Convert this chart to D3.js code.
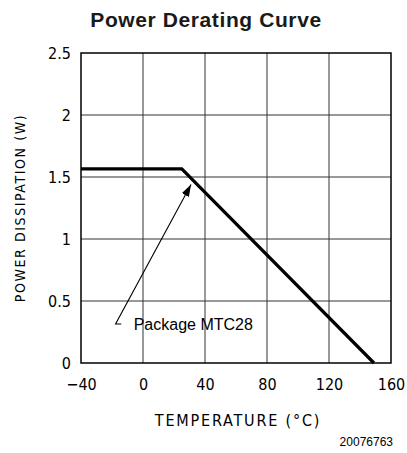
<!DOCTYPE html>
<html>
<head>
<meta charset="utf-8">
<script src="https://cdnjs.cloudflare.com/ajax/libs/d3/7.8.5/d3.min.js"></script>
<style>
  body { margin: 0; background: #fff; }
  .tech { font-family: "DejaVu Sans Condensed", "DejaVu Sans", sans-serif; font-stretch: condensed; }
</style>
</head>
<body>
<div id="chart"></div>
<script>
(function(){
    var width = 407,
        height = 453;

    // data
    var xTicks = [-40, 0, 40, 80, 120, 160];
    var yTicks = [0, 0.5, 1, 1.5, 2, 2.5];
    var curveTemp = [-40, 25, 149];
    var curvePower = [1.565, 1.565, 0];
    // arrow of the "Package MTC28" label: tail end, corner, tip
    var arrowTemp = [-14, -17.7, 31];
    var arrowPower = [0.315, 0.315, 1.44];
    var labelAt = [-6, 0.315];

    var margin = {left: 81, right: 16, top: 53, bottom: 90};

    var svg = d3.select("#chart")
      .append("svg")
      .attr("width", width)
      .attr("height", height);

    var xScale = d3.scaleLinear().domain([-40, 160]).range([margin.left, width - margin.right]);
    var yScale = d3.scaleLinear().domain([0, 2.5]).range([height - margin.bottom, margin.top]);

    svg.append("text")
      .attr("x", 206)
      .attr("y", 27)
      .attr("text-anchor", "middle")
      .style("font-family", "Liberation Sans, Arial, sans-serif")
      .style("font-weight", "bold")
      .style("font-size", "21px")
      .style("letter-spacing", "0.6px")
      .attr("fill", "#1a1a1a")
      .text("Power Derating Curve");

    // grid
    var grid = svg.append("g");
    grid.selectAll(".vx")
      .data(xTicks.slice(1, -1))
      .enter().append("line")
      .attr("x1", function(d){ return xScale(d) })
      .attr("x2", function(d){ return xScale(d) })
      .attr("y1", yScale(0))
      .attr("y2", yScale(2.5))
      .attr("stroke", "#333")
      .attr("stroke-width", 1);
    grid.selectAll(".hy")
      .data(yTicks.slice(1, -1))
      .enter().append("line")
      .attr("y1", function(d){ return yScale(d) })
      .attr("y2", function(d){ return yScale(d) })
      .attr("x1", xScale(-40))
      .attr("x2", xScale(160))
      .attr("stroke", "#333")
      .attr("stroke-width", 1);

    svg.append("rect")
      .attr("x", xScale(-40))
      .attr("y", yScale(2.5))
      .attr("width", xScale(160) - xScale(-40))
      .attr("height", yScale(0) - yScale(2.5))
      .attr("fill", "none")
      .attr("stroke", "#000")
      .attr("stroke-width", 1.5);

    // axes (tick text only)
    var xaxis = d3.axisBottom(xScale).tickValues(xTicks).tickSize(0).tickPadding(0)
      .tickFormat(function(d){ return d < 0 ? "\u2212" + Math.abs(d) : d; });
    var gx = svg.append("g").attr("class", "tech")
      .attr("transform", "translate(0," + yScale(0) + ")")
      .call(xaxis);
    gx.select(".domain").remove();
    gx.selectAll("text")
      .attr("dy", 0)
      .attr("y", 27)
      .style("font-size", "16px")
      .attr("fill", "#000");

    var yaxis = d3.axisLeft(yScale).tickValues(yTicks).tickSize(0).tickPadding(10)
      .tickFormat(d3.format("~g"));
    var gy = svg.append("g").attr("class", "tech")
      .attr("transform", "translate(" + xScale(-40) + ",0)")
      .call(yaxis);
    gy.select(".domain").remove();
    gy.selectAll("text")
      .attr("dy", "0.36em")
      .style("font-size", "16px")
      .attr("fill", "#000");
    svg.selectAll(".tick line").remove();

    svg.append("text").attr("class", "tech")
      .attr("x", (xScale(-40) + xScale(160)) / 2 + 2)
      .attr("y", 426)
      .attr("text-anchor", "middle")
      .style("font-size", "16px")
      .style("letter-spacing", "1.8px")
      .text("TEMPERATURE (\u00B0C)");

    svg.append("text").attr("class", "tech")
      .attr("transform", "translate(25," + yScale(1.25) + ") rotate(-90)")
      .attr("text-anchor", "middle")
      .style("font-size", "14px")
      .style("letter-spacing", "1.6px")
      .text("POWER DISSIPATION (W)");

    svg.append("text")
      .attr("x", 393)
      .attr("y", 446)
      .attr("text-anchor", "end")
      .style("font-family", "Liberation Sans, Arial, sans-serif")
      .style("font-size", "12px")
      .text("20076763");

    // curve
    var line = d3.line()
      .x(function(d){ return xScale(d[0]) })
      .y(function(d){ return yScale(d[1]) });
    svg.append("path")
      .datum(d3.zip(curveTemp, curvePower))
      .attr("d", line)
      .attr("fill", "none")
      .attr("stroke", "#000")
      .attr("stroke-width", 3.2)
      .attr("stroke-linejoin", "miter");

    // annotation
    svg.append("defs").append("marker")
      .attr("id", "arr")
      .attr("viewBox", "0 0 12 8")
      .attr("refX", 12).attr("refY", 4)
      .attr("markerWidth", 12).attr("markerHeight", 8)
      .attr("markerUnits", "userSpaceOnUse")
      .attr("orient", "auto")
      .append("path")
      .attr("d", "M0,0 L12,4 L0,8 Z")
      .attr("fill", "#000");

    svg.append("path")
      .datum(d3.zip(arrowTemp, arrowPower))
      .attr("d", line)
      .attr("fill", "none")
      .attr("stroke", "#000")
      .attr("stroke-width", 1.1)
      .attr("marker-end", "url(#arr)");

    svg.append("text")
      .attr("x", xScale(labelAt[0]))
      .attr("y", yScale(labelAt[1]))
      .attr("dy", "0.35em")
      .style("font-family", "Liberation Sans, Arial, sans-serif")
      .style("font-size", "16px")
      .text("Package MTC28");
})();
</script>
</body>
</html>
